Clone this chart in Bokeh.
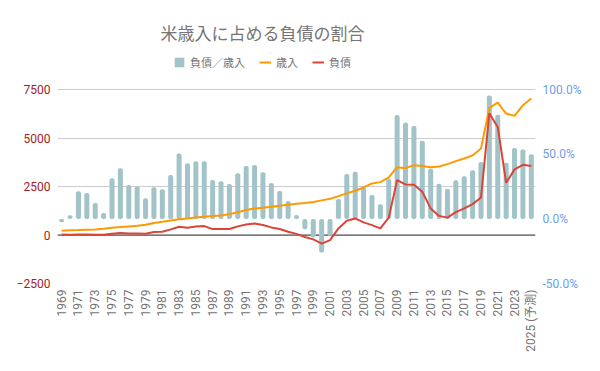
import math
from bokeh.plotting import figure
from bokeh.models import (Range1d, LinearAxis, FixedTicker, NumeralTickFormatter,
                          Legend, LegendItem, Span, ColumnDataSource)
from bokeh.embed import file_html
from bokeh.resources import INLINE

# ---- data ----
years = list(range(1969, 2026))
ratio_pct = [  # 負債／歳入 (%)
    -2.6, 2.8, 21.4, 20.1, 12.4, 4.6, 31.4, 39.2, 26.3, 25.0,
    16.0, 24.5, 22.9, 34.0, 50.7, 43.0, 44.6, 44.6, 30.1, 29.1,
    27.0, 35.3, 41.0, 41.7, 36.1, 27.8, 21.6, 13.9, 3.1, -8.0,
    -14.3, -26.0, -13.2, 15.5, 34.8, 36.6, 24.5, 18.5, 11.3, 30.9,
    80.4, 74.7, 71.9, 60.6, 38.9, 27.3, 23.4, 29.9, 33.0, 37.6,
    44.0, 95.6, 80.6, 43.5, 54.9, 53.8, 50.0]
revenue = [  # 歳入
    222, 242, 258, 275, 292, 326, 378, 412, 447, 481,
    533, 619, 687, 756, 820, 860, 905, 950, 990, 1010,
    1080, 1180, 1290, 1370, 1410, 1460, 1510, 1570, 1620, 1660,
    1710, 1790, 1870, 2010, 2150, 2285, 2457, 2663, 2732, 2973,
    3505, 3454, 3609, 3570, 3505, 3540, 3660, 3815, 3952, 4110,
    4468, 6564, 6839, 6272, 6152, 6701, 7045]
debt = [  # 負債
    30, 20, 34, 34, 17, 17, 69, 103, 86, 86,
    69, 155, 172, 292, 430, 378, 447, 464, 309, 309,
    309, 447, 550, 601, 515, 395, 309, 172, 60, -100,
    -223, -440, -258, 344, 739, 859, 653, 515, 344, 894,
    2835, 2612, 2595, 2234, 1375, 990, 900, 1185, 1375, 1598,
    1942, 6290, 5570, 2700, 3390, 3625, 3565]
left_ticks = [-2500, 0, 2500, 5000, 7500]
right_ticks = [-0.5, 0.0, 0.5, 1.0]
tick_years = list(range(1969, 2026, 2))
last_label = "2025 (予測)"

title_text = "米歳入に占める負債の割合"
label_ratio = "負債／歳入"
label_rev = "歳入"
label_debt = "負債"

src = ColumnDataSource(dict(year=years,
                            ratio=[r / 100 for r in ratio_pct],
                            revenue=revenue, debt=debt))

JP = "Noto Sans CJK JP"
MIX = "Roboto, Noto Sans CJK JP"

# frame extends above the 7500 line to leave room for the legend
p = figure(width=592, height=365, output_backend="svg", toolbar_location=None,
           x_range=Range1d(1968.5, 2025.5), y_range=Range1d(-2500, 9629),
           min_border_left=57, min_border_right=57, min_border_top=48,
           min_border_bottom=82)
p.extra_y_ranges = {"pct": Range1d(-0.5, 1.3193)}
p.outline_line_color = None
p.background_fill_color = "white"
p.border_fill_color = "white"

# title
p.title.text = title_text
p.title.align = "left"
p.title.offset = 103
p.title.text_font = JP
p.title.text_font_size = "17px"
p.title.text_font_style = "normal"
p.title.text_color = "#757575"
p.title.standoff = 7

# grid
p.xgrid.visible = False
p.ygrid.ticker = FixedTicker(ticks=left_ticks)
p.ygrid.grid_line_color = "#cccccc"
p.ygrid.grid_line_width = 1

zero = Span(location=0, dimension="width", line_color="#333333", line_width=1,
            level="underlay")
p.add_layout(zero)

# left axis
la = p.yaxis[0]
la.ticker = FixedTicker(ticks=left_ticks)
la.axis_line_color = None
la.major_tick_line_color = None
la.minor_tick_line_color = None
la.major_tick_out = 0
la.major_tick_in = 0
la.major_label_text_color = "#a61c1c"
la.major_label_text_font = MIX
la.major_label_text_font_size = "12px"
la.major_label_standoff = 7

# right axis
ra = LinearAxis(y_range_name="pct", ticker=FixedTicker(ticks=right_ticks),
                formatter=NumeralTickFormatter(format="0.0%"))
ra.axis_line_color = None
ra.major_tick_line_color = None
ra.minor_tick_line_color = None
ra.major_tick_out = 0
ra.major_tick_in = 0
ra.major_label_text_color = "#6d9eeb"
ra.major_label_text_font = MIX
ra.major_label_text_font_size = "12px"
ra.major_label_standoff = 7
p.add_layout(ra, "right")

# bottom axis
ba = p.xaxis[0]
ba.ticker = FixedTicker(ticks=tick_years)
ba.major_label_overrides = {2025: last_label}
ba.major_label_orientation = math.pi / 2
ba.axis_line_color = None
ba.major_tick_line_color = None
ba.minor_tick_line_color = None
ba.major_tick_out = 0
ba.major_tick_in = 0
ba.major_label_text_color = "#757575"
ba.major_label_text_font = MIX
ba.major_label_text_font_size = "12px"
ba.major_label_standoff = 6

# glyphs
bars = p.vbar(x="year", top="ratio", bottom=0, width=0.6, source=src,
              y_range_name="pct", fill_color="#a2c4c9", line_color=None,
              border_radius=2)
rev_line = p.line(x="year", y="revenue", source=src, line_color="#ff9900",
                  line_width=2)
debt_line = p.line(x="year", y="debt", source=src, line_color="#db4437",
                   line_width=2)

legend = Legend(items=[LegendItem(label=label_ratio, renderers=[bars]),
                       LegendItem(label=label_rev, renderers=[rev_line]),
                       LegendItem(label=label_debt, renderers=[debt_line])],
                orientation="horizontal", location=(116, 213),
                glyph_width=12, glyph_height=12, label_height=12,
                label_standoff=5, spacing=14, padding=0, margin=0,
                border_line_color=None, background_fill_alpha=0,
                label_text_font=JP, label_text_font_size="11px",
                label_text_color="#757575")
p.add_layout(legend)

open("out.html", "w").write(file_html(p, INLINE))
